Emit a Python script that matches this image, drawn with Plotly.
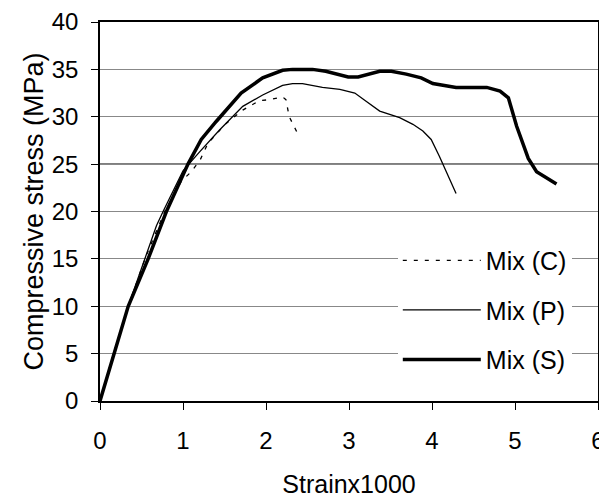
import plotly.graph_objects as go

# Mix (C) - dashed
c_strain = [0, 0.17, 0.35, 0.55, 0.78, 0.98, 1.10, 1.21, 1.30, 1.52, 1.72, 1.92, 2.04, 2.20, 2.24, 2.28, 2.40]
c_stress = [0, 5.2, 10.2, 15.2, 20.0, 23.2, 24.2, 25.5, 27.2, 29.3, 30.7, 31.7, 31.8, 32.1, 31.8, 30.0, 27.9]

# Mix (P) - thin solid
p_strain = [0, 0.165, 0.34, 0.50, 0.59, 0.68, 0.76, 1.00, 1.20, 1.44, 1.72, 1.96, 2.20, 2.32, 2.44, 2.68, 2.89,
            3.07, 3.21, 3.37, 3.61, 3.77, 3.89, 3.99, 4.09, 4.29]
p_stress = [0, 5, 10, 14.0, 16.1, 18.5, 20.0, 24.3, 26.3, 28.6, 31.1, 32.3, 33.3, 33.5, 33.5, 33.1, 32.9,
            32.5, 31.6, 30.6, 29.9, 29.2, 28.5, 27.6, 25.8, 21.9]

# Mix (S) - thick solid
s_strain = [0, 0.165, 0.34, 0.58, 0.80, 1.06, 1.22, 1.40, 1.70, 1.96, 2.20, 2.32, 2.56, 2.72, 2.99, 3.11,
            3.37, 3.51, 3.69, 3.87, 4.01, 4.29, 4.66, 4.82, 4.92, 5.02, 5.16, 5.26, 5.50]
s_stress = [0, 5, 10, 15, 20, 25, 27.6, 29.5, 32.5, 34.1, 34.9, 35.0, 35.0, 34.8, 34.2, 34.2,
            34.8, 34.8, 34.5, 34.1, 33.5, 33.1, 33.1, 32.7, 32.0, 29.0, 25.6, 24.2, 22.9]

x_ticks = [0, 1, 2, 3, 4, 5, 6]
y_ticks = [0, 5, 10, 15, 20, 25, 30, 35, 40]
dark_grid = [20, 25]

FONT = "Arial, Liberation Sans, sans-serif"

fig = go.Figure()
fig.add_trace(go.Scatter(x=c_strain, y=c_stress, mode="lines", name="Mix (C)", legendgroup="c",
                         line=dict(color="black", width=1.3, dash="4px,7px")))
fig.add_trace(go.Scatter(x=p_strain, y=p_stress, mode="lines", name="Mix (P)", legendgroup="p",
                         line=dict(color="black", width=1.3)))
fig.add_trace(go.Scatter(x=s_strain, y=s_stress, mode="lines", name="Mix (S)", legendgroup="s",
                         line=dict(color="black", width=3.5)))

for yv in dark_grid:
    fig.add_shape(type="line", xref="x", yref="y", x0=0, x1=6, y0=yv, y1=yv,
                  line=dict(color="black", width=1.2), layer="below")

# the page body has an 8px margin, so the figure is 8px smaller and margins shifted
fig.update_layout(
    width=599, height=490,
    margin=dict(l=92, r=9, t=14, b=97),
    paper_bgcolor="white", plot_bgcolor="white",
    font=dict(family=FONT, size=24, color="black"),
    showlegend=True,
    legend=dict(x=0.598, y=0.431, xanchor="left", yanchor="top",
                bgcolor="white", borderwidth=0, itemwidth=78,
                tracegroupgap=14, font=dict(size=25, family=FONT),
                traceorder="grouped"),
    xaxis=dict(range=[0, 6], tickvals=x_ticks, ticktext=[str(v) for v in x_ticks],
               showgrid=False, zeroline=False, showline=True, linecolor="black", linewidth=1.5,
               mirror=True, ticks="outside", ticklen=7, tickcolor="black", tickwidth=1,
               ticklabelstandoff=10, automargin=False, tickfont=dict(size=24),
               title=dict(text="Strainx1000", font=dict(size=25, family=FONT), standoff=25)),
    yaxis=dict(range=[0, 40], tickvals=y_ticks, ticktext=[str(v) for v in y_ticks],
               showgrid=True, gridcolor="#888888", gridwidth=1, zeroline=False,
               showline=True, linecolor="black", linewidth=1.5, mirror=True,
               ticks="outside", ticklen=7, tickcolor="black", tickwidth=1,
               ticklabelstandoff=8, automargin=False, tickfont=dict(size=24),
               title=dict(text="Compressive stress (MPa)", font=dict(size=27, family=FONT), standoff=0)),
)

fig.write_html("out.html")
